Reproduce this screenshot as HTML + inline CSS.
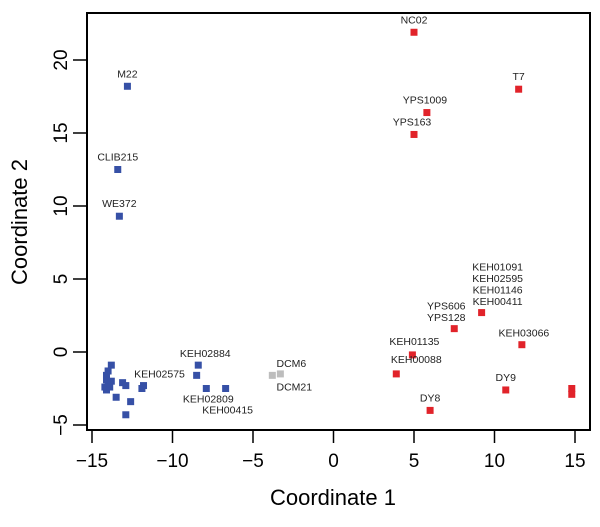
<!DOCTYPE html>
<html><head><meta charset="utf-8"><style>
body{margin:0;background:#fff}
svg{display:block;font-family:"Liberation Sans",sans-serif}
</style></head><body>
<svg id="chart" width="600" height="527">
<rect x="87" y="13" width="503" height="417" fill="none" stroke="#000" stroke-width="2"/>
<g id="xt"></g>
<g id="yt"></g>
<g id="pts"></g>
<g id="lbl"></g>
<text x="333" y="505" font-size="22" text-anchor="middle">Coordinate 1</text>
<text transform="translate(27,222) rotate(-90)" font-size="22" text-anchor="middle">Coordinate 2</text>
</svg>
<script>
const xTicks=[-15,-10,-5,0,5,10,15];
const yTicks=[-5,0,5,10,15,20];
const groups=["blue","red","gray"];
const xs=[-12.8,-13.4,-13.3,-8.4,-8.5,-7.9,-6.7,-11.8,-11.9,-13.8,-14.0,-14.1,-14.1,-14.0,-14.2,-13.9,-13.8,-14.1,-13.1,-12.9,-13.5,-12.6,-12.9,
 5.0,11.5,5.8,5.0,9.2,7.5,11.7,4.9,3.9,10.7,6.0,14.8,14.8,
 -3.3,-3.8];
const ys=[18.2,12.5,9.3,-0.9,-1.6,-2.5,-2.5,-2.3,-2.5,-0.9,-1.3,-1.6,-1.9,-2.1,-2.4,-2.4,-2.0,-2.6,-2.1,-2.3,-3.1,-3.4,-4.3,
 21.9,18.0,16.4,14.9,2.7,1.6,0.5,-0.2,-1.5,-2.6,-4.0,-2.5,-2.9,
 -1.5,-1.6];
const grp=[0,0,0,0,0,0,0,0,0,0,0,0,0,0,0,0,0,0,0,0,0,0,0,1,1,1,1,1,1,1,1,1,1,1,1,1,2,2];
const labels=["M22","CLIB215","WE372","KEH02884","","KEH02809","KEH00415","KEH02575","","","","","","","","","","","","","","","",
 "NC02","T7","YPS1009","YPS163","KEH01091\nKEH02595\nKEH01146\nKEH00411","YPS606\nYPS128","KEH03066","KEH01135","KEH00088","DY9","DY8","","",
 "DCM6","DCM21"];
const loff={"M22":[0,-9],"CLIB215":[0,-9],"WE372":[0,-9],"KEH02884":[7,-8],"KEH02809":[2,14],"KEH00415":[2,25],"KEH02575":[16,-8],
"NC02":[0,-9],"T7":[0,-9],"YPS1009":[-2,-9],"YPS163":[-2,-9],"KEH01091\nKEH02595\nKEH01146\nKEH00411":[16,-42],"YPS606\nYPS128":[-8,-19],
"KEH03066":[2,-8],"KEH01135":[2,-10],"KEH00088":[20,-11],"DY9":[0,-9],"DY8":[0,-9],"DCM6":[11,-7],"DCM21":[22,15]};
const colors={blue:"#3650a6",red:"#e1232a",gray:"#bdbdbd"};
const X=v=>333.5+v*16.1, Y=v=>352-v*14.6;
const NS="http://www.w3.org/2000/svg";
function mk(t,a,p){const e=document.createElementNS(NS,t);for(const k in a)e.setAttribute(k,a[k]);p.appendChild(e);return e;}
const xt=document.getElementById('xt'),yt=document.getElementById('yt'),pts=document.getElementById('pts'),lbl=document.getElementById('lbl');
xTicks.forEach(v=>{const x=X(v);
 const l=mk('line',{x1:x,x2:x,y1:431,y2:443,stroke:'#000','stroke-width':1.5},xt);
 
 
 const t=mk('text',{x:x,y:467,'font-size':19,'text-anchor':'middle'},xt);t.textContent=(v<0?'\u2212'+(-v):v);
 
 });
yTicks.forEach(v=>{const y=Y(v);
 const l=mk('line',{x1:73,x2:86,y1:y,y2:y,stroke:'#000','stroke-width':1.5},yt);
 
 
 const t=mk('text',{transform:`translate(67,${y}) rotate(-90)`,'font-size':19,'text-anchor':'middle'},yt);t.textContent=(v<0?'\u2212'+(-v):v);
 
 });
xs.forEach((v,i)=>{const x=X(v),y=Y(ys[i]);
 const r=mk('rect',{x:x-3.5,y:y-3.5,width:7,height:7,fill:colors[groups[grp[i]]]},pts);
 
 
 const s=labels[i];if(!s)return;
 const o=loff[s]||[0,-9];const lines=s.split('\n');
 lines.forEach((ln,j)=>{const t=mk('text',{x:x+o[0],y:y+o[1]+j*11.5,'font-size':10.5,'text-anchor':'middle',fill:'#222'},lbl);
  t.textContent=ln;
  
  });
});
</script>
</body></html>
